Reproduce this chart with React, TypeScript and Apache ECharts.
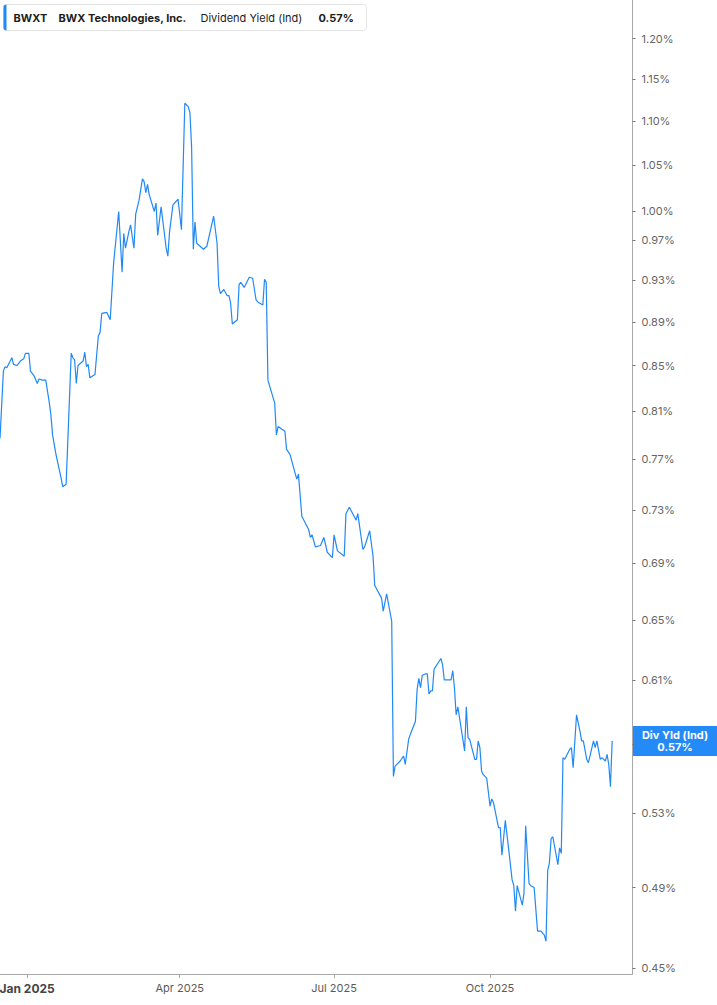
import React, { useEffect, useRef } from 'react';
import * as echarts from 'echarts';

const FONT = 'Inter, "Noto Sans", sans-serif';
const LINE_BLUE = '#2189f6';
const FLAG_BLUE = '#238af7';

// daily dividend yield (indicated), in percent
const dates = [
  '2024-12-16', '2024-12-18', '2024-12-19', '2024-12-20', '2024-12-23', '2024-12-24', '2024-12-26', '2024-12-27',
  '2024-12-28', '2024-12-30', '2024-12-31', '2025-01-02', '2025-01-03', '2025-01-05', '2025-01-07', '2025-01-08',
  '2025-01-10', '2025-01-12', '2025-01-14', '2025-01-15', '2025-01-16', '2025-01-18', '2025-01-21', '2025-01-22',
  '2025-01-24', '2025-01-27', '2025-01-28', '2025-01-29', '2025-01-30', '2025-01-31', '2025-02-03', '2025-02-04',
  '2025-02-05', '2025-02-06', '2025-02-07', '2025-02-10', '2025-02-12', '2025-02-13', '2025-02-14', '2025-02-17',
  '2025-02-19', '2025-02-21', '2025-02-24', '2025-02-26', '2025-02-27', '2025-02-28', '2025-03-02', '2025-03-03',
  '2025-03-05', '2025-03-06', '2025-03-08', '2025-03-10', '2025-03-11', '2025-03-12', '2025-03-13', '2025-03-14',
  '2025-03-17', '2025-03-18', '2025-03-19', '2025-03-21', '2025-03-24', '2025-03-25', '2025-03-26', '2025-03-28',
  '2025-03-31', '2025-04-02', '2025-04-04', '2025-04-06', '2025-04-07', '2025-04-08', '2025-04-09', '2025-04-10',
  '2025-04-11', '2025-04-15', '2025-04-17', '2025-04-21', '2025-04-23', '2025-04-24', '2025-04-25', '2025-04-27',
  '2025-04-29', '2025-04-30', '2025-05-01', '2025-05-02', '2025-05-05', '2025-05-06', '2025-05-07', '2025-05-09',
  '2025-05-12', '2025-05-14', '2025-05-16', '2025-05-17', '2025-05-20', '2025-05-21', '2025-05-22', '2025-05-23',
  '2025-05-27', '2025-05-28', '2025-05-29', '2025-06-02', '2025-06-03', '2025-06-05', '2025-06-09', '2025-06-10',
  '2025-06-12', '2025-06-16', '2025-06-17', '2025-06-18', '2025-06-20', '2025-06-23', '2025-06-25', '2025-06-27',
  '2025-06-30', '2025-07-01', '2025-07-03', '2025-07-07', '2025-07-08', '2025-07-10', '2025-07-14', '2025-07-15',
  '2025-07-18', '2025-07-19', '2025-07-22', '2025-07-24', '2025-07-25', '2025-07-29', '2025-07-30', '2025-08-01',
  '2025-08-04', '2025-08-05', '2025-08-06', '2025-08-09', '2025-08-11', '2025-08-12', '2025-08-14', '2025-08-15',
  '2025-08-18', '2025-08-19', '2025-08-20', '2025-08-21', '2025-08-22', '2025-08-24', '2025-08-25', '2025-08-26',
  '2025-08-27', '2025-08-28', '2025-08-29', '2025-09-02', '2025-09-03', '2025-09-04', '2025-09-08', '2025-09-09',
  '2025-09-10', '2025-09-11', '2025-09-12', '2025-09-16', '2025-09-17', '2025-09-18', '2025-09-19', '2025-09-22',
  '2025-09-23', '2025-09-24', '2025-09-25', '2025-09-26', '2025-09-27', '2025-09-29', '2025-10-01', '2025-10-02',
  '2025-10-03', '2025-10-06', '2025-10-07', '2025-10-08', '2025-10-10', '2025-10-12', '2025-10-14', '2025-10-15',
  '2025-10-16', '2025-10-17', '2025-10-20', '2025-10-21', '2025-10-22', '2025-10-24', '2025-10-25', '2025-10-27',
  '2025-10-29', '2025-10-31', '2025-11-02', '2025-11-03', '2025-11-04', '2025-11-05', '2025-11-06', '2025-11-07',
  '2025-11-10', '2025-11-11', '2025-11-12', '2025-11-13', '2025-11-14', '2025-11-17', '2025-11-18', '2025-11-19',
  '2025-11-21', '2025-11-23', '2025-11-24', '2025-11-25', '2025-11-27', '2025-11-28', '2025-12-01', '2025-12-02',
  '2025-12-03', '2025-12-05', '2025-12-06', '2025-12-08', '2025-12-09', '2025-12-10', '2025-12-11', '2025-12-12',
];

const yields = [
  0.787, 0.845, 0.849, 0.848, 0.857, 0.851, 0.850, 0.852,
  0.854, 0.856, 0.861, 0.861, 0.845, 0.841, 0.834, 0.838,
  0.837, 0.837, 0.818, 0.807, 0.790, 0.774, 0.755, 0.748,
  0.750, 0.861, 0.857, 0.855, 0.834, 0.850, 0.854, 0.862,
  0.849, 0.851, 0.839, 0.842, 0.877, 0.880, 0.898, 0.899,
  0.892, 0.947, 1.000, 0.938, 0.977, 0.962, 0.979, 0.986,
  0.962, 0.997, 1.012, 1.035, 1.032, 1.020, 1.029, 1.018,
  1.000, 1.009, 0.975, 1.005, 0.962, 0.954, 0.979, 1.007,
  1.013, 0.981, 1.121, 1.117, 1.110, 1.070, 0.961, 0.989,
  0.967, 0.961, 0.964, 0.995, 0.967, 0.924, 0.917, 0.921,
  0.915, 0.915, 0.908, 0.888, 0.892, 0.926, 0.928, 0.923,
  0.933, 0.932, 0.911, 0.909, 0.906, 0.931, 0.928, 0.837,
  0.817, 0.790, 0.797, 0.793, 0.778, 0.774, 0.754, 0.758,
  0.725, 0.715, 0.709, 0.711, 0.702, 0.703, 0.709, 0.698,
  0.694, 0.711, 0.699, 0.695, 0.727, 0.732, 0.722, 0.727,
  0.700, 0.702, 0.714, 0.695, 0.674, 0.665, 0.656, 0.668,
  0.649, 0.551, 0.557, 0.560, 0.563, 0.558, 0.573, 0.576,
  0.584, 0.604, 0.611, 0.605, 0.613, 0.614, 0.614, 0.601,
  0.603, 0.603, 0.617, 0.624, 0.620, 0.610, 0.610, 0.616,
  0.605, 0.588, 0.593, 0.566, 0.593, 0.574, 0.573, 0.561,
  0.561, 0.572, 0.568, 0.554, 0.552, 0.550, 0.534, 0.538,
  0.536, 0.522, 0.522, 0.507, 0.526, 0.510, 0.494, 0.491,
  0.478, 0.491, 0.481, 0.487, 0.523, 0.492, 0.491, 0.490,
  0.468, 0.468, 0.466, 0.463, 0.499, 0.503, 0.516, 0.517,
  0.502, 0.511, 0.508, 0.562, 0.561, 0.567, 0.568, 0.556,
  0.588, 0.578, 0.572, 0.572, 0.561, 0.559, 0.572, 0.568,
  0.572, 0.561, 0.562, 0.560, 0.564, 0.558, 0.545, 0.572,
];

// 0.57% sits under the "Div Yld" flag, so it only gets a tick mark
const yTicks = [1.2, 1.15, 1.1, 1.05, 1.0, 0.97, 0.93, 0.89, 0.85, 0.81, 0.77, 0.73, 0.69, 0.65, 0.61, 0.57, 0.53, 0.49, 0.45];
const yLabels = [1.2, 1.15, 1.1, 1.05, 1.0, 0.97, 0.93, 0.89, 0.85, 0.81, 0.77, 0.73, 0.69, 0.65, 0.61, 0.53, 0.49, 0.45];
const xTicks = ['2025-01-01', '2025-04-01', '2025-07-01', '2025-10-01'];
const xRange = ['2024-12-16', '2025-12-24'];
const MONTHS = ['Jan', 'Feb', 'Mar', 'Apr', 'May', 'Jun', 'Jul', 'Aug', 'Sep', 'Oct', 'Nov', 'Dec'];

const toTime = (s: string) => {
  const [y, m, d] = s.split('-').map(Number);
  return Date.UTC(y, m - 1, d);
};

const App: React.FC = () => {
  const chartRef = useRef<HTMLDivElement>(null);

  useEffect(() => {
    if (!chartRef.current) return;
    const chart = echarts.init(chartRef.current, null, { renderer: 'svg' });

    const last = yields[yields.length - 1];
    const lastText = last.toFixed(2) + '%';
    // yield axis is logarithmic: plot ln(value) on a linear axis
    const lineData = dates.map((d, i) => [toTime(d), Math.log(yields[i])]);
    const timeTicks = xTicks.map(toTime);

    const legend = {
      id: 'legend',
      type: 'group',
      left: 3,
      top: 4,
      children: [
        {
          type: 'rect',
          shape: { x: 0, y: 0, width: 363, height: 26, r: 3 },
          style: { fill: '#fff', stroke: '#e4e4e4', lineWidth: 1 },
        },
        {
          type: 'rect',
          shape: { x: 0, y: 0, width: 3, height: 26, r: [3, 0, 0, 3] },
          style: { fill: LINE_BLUE },
        },
        {
          type: 'text',
          x: 10,
          y: 13,
          style: { text: 'BWXT', fill: '#1d1d1d', font: 'bold 11px ' + FONT, textVerticalAlign: 'middle' },
        },
        {
          type: 'text',
          x: 55,
          y: 13,
          style: { text: 'BWX Technologies, Inc.', fill: '#1d1d1d', font: 'bold 11px ' + FONT, textVerticalAlign: 'middle' },
        },
        {
          type: 'text',
          x: 197,
          y: 13,
          style: { text: 'Dividend Yield (Ind)', fill: '#1d1d1d', font: '11px ' + FONT, textVerticalAlign: 'middle' },
        },
        {
          type: 'text',
          x: 315,
          y: 13,
          style: { text: lastText, fill: '#1d1d1d', font: 'bold 11px ' + FONT, textVerticalAlign: 'middle' },
        },
      ],
    };

    chart.setOption({
      animation: false,
      grid: {
        left: 0,
        right: 84.5,
        top: 0,
        bottom: 31,
        containLabel: false,
        outerBoundsMode: 'none',
      },
      xAxis: {
        type: 'value',
        min: toTime(xRange[0]),
        max: toTime(xRange[1]),
        splitLine: { show: false },
        axisLine: { show: true, onZero: false, lineStyle: { color: '#a8a8a8', width: 1 } },
        axisTick: { show: true, customValues: timeTicks, length: 4, lineStyle: { color: '#a8a8a8' } },
        axisLabel: {
          customValues: timeTicks,
          margin: 8,
          color: '#5a5a5a',
          fontSize: 11,
          fontFamily: FONT,
          formatter: (v: number) => {
            const dt = new Date(v);
            const s = MONTHS[dt.getUTCMonth()] + ' ' + dt.getUTCFullYear();
            return dt.getUTCMonth() === 0 ? '{b|' + s + '}' : s;
          },
          rich: {
            b: { fontSize: 12, fontWeight: 'bold', color: '#444', fontFamily: FONT },
          },
        },
      },
      yAxis: {
        type: 'value',
        position: 'right',
        min: Math.log(0.4473),
        max: Math.log(1.25),
        splitLine: { show: false },
        axisLine: { show: true, onZero: false, lineStyle: { color: '#a8a8a8', width: 1 } },
        axisTick: { show: true, customValues: yTicks.map(Math.log), length: 3, lineStyle: { color: '#777' } },
        axisLabel: {
          customValues: yLabels.map(Math.log),
          margin: 9,
          color: '#666',
          fontSize: 11,
          fontFamily: FONT,
          formatter: (v: number) => Math.exp(v).toFixed(2) + '%',
        },
      },
      series: [
        {
          type: 'line',
          data: lineData,
          showSymbol: false,
          symbol: 'none',
          lineStyle: { color: LINE_BLUE, width: 1.2 },
          itemStyle: { color: LINE_BLUE },
        },
      ],
    });

    // flag on the price axis at the last value, placed through the axis scales
    const pt = chart.convertToPixel({ gridIndex: 0 }, [toTime(xRange[1]), Math.log(last)]) as number[];
    const flag = {
      id: 'flag',
      type: 'group',
      x: pt[0],
      y: pt[1],
      z: 100,
      children: [
        {
          type: 'rect',
          shape: { x: 0, y: -15, width: 85, height: 30 },
          style: { fill: FLAG_BLUE },
        },
        {
          type: 'text',
          x: 42.5,
          y: -6,
          style: {
            text: 'Div Yld (Ind)',
            fill: '#fff',
            font: 'bold 11px ' + FONT,
            textAlign: 'center',
            textVerticalAlign: 'middle',
          },
        },
        {
          type: 'text',
          x: 42.5,
          y: 6,
          style: {
            text: lastText,
            fill: '#fff',
            font: 'bold 11px ' + FONT,
            textAlign: 'center',
            textVerticalAlign: 'middle',
          },
        },
      ],
    };
    chart.setOption({ graphic: [legend, flag] });

    return () => {
      chart.dispose();
    };
  }, []);

  return (
    <div
      ref={chartRef}
      style={{ position: 'absolute', left: 0, top: 0, width: 717, height: 1005, background: '#fff' }}
    />
  );
};

export default App;
